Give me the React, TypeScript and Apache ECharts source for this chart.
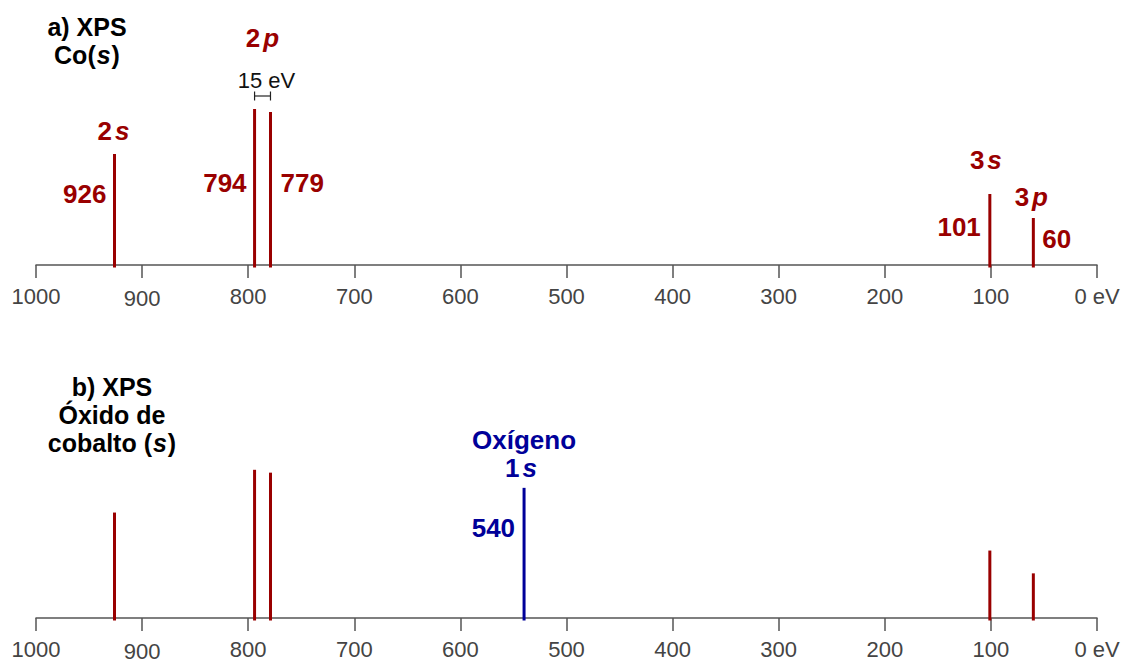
import React, { useEffect, useRef } from "react";
import * as echarts from "echarts";

// ---- data ----
const axisMin = 0;
const axisMax = 1000;
const axisInterval = 100;
const cobaltEnergies = [926, 794, 779, 101, 60];
const cobaltIntensities = [111, 156, 153, 71, 47];
const cobaltValueLabels = ["926", "794", "779", "101", "60"];
const oxygenEnergies = [540];
const oxygenIntensities = [137];
const oxygenValueLabels = ["540"];
const orbitalNames = ["2", "2", "3", "3"];
const orbitalLetters = ["s", "p", "s", "p"];
const splittingLabel = "15 eV";
const panelTitlesA = ["a) XPS", "Co(", "s", ")"];
const panelTitlesB = ["b) XPS", "Óxido de", "cobalto (", "s", ")"];
const oxygenTitle = ["Oxígeno", "1", "s"];

// ---- styles ----
const RED = "#990000";
const BLUE = "#000099";
const AXIS = "#555555";
const FONT = "'Liberation Sans', Arial, Helvetica, sans-serif";
const valueSide = [-1, -1, 1, -1, 1];
const valueDx = [-8, -8, 10, -9, 9];
const valueDy = [-71, -82, -82, -38, -26];

export default function App() {
  const ref = useRef<HTMLDivElement>(null);
  useEffect(() => {
    if (!ref.current) return;
    document.body.style.margin = "0";
    const chart = echarts.init(ref.current, null, { renderer: "svg" });

    const xAxisBase = (gridIndex: number) => ({
      type: "value",
      gridIndex,
      min: axisMin,
      max: axisMax,
      interval: axisInterval,
      inverse: true,
      position: "bottom",
      axisLine: { show: true, onZero: false, lineStyle: { color: AXIS, width: 1.5 } },
      axisTick: { show: true, length: 13, lineStyle: { color: AXIS, width: 1.5 } },
      axisLabel: {
        show: true,
        margin: 20,
        color: "#444",
        fontSize: 22,
        fontFamily: FONT,
        formatter: (v: number) => (v === 0 ? "0 eV" : v === 900 ? "{low|900}" : String(v)),
        rich: {
          low: { fontSize: 22, fontFamily: FONT, color: "#444", padding: [2, 0, 0, 0] },
        },
      },
      splitLine: { show: false },
    });
    const yAxisBase = (gridIndex: number) => ({
      type: "value",
      gridIndex,
      min: 0,
      max: 200,
      show: false,
    });
    const stem = (color: string) => (params: any, api: any) => {
      const x = api.value(0);
      const y = api.value(1);
      const p0 = api.coord([x, 0]);
      const p1 = api.coord([x, y]);
      return {
        type: "line",
        shape: { x1: p0[0], y1: p0[1] + 2.5, x2: p1[0], y2: p1[1] },
        style: { stroke: color, lineWidth: 3 },
      };
    };
    const pairs = (xs: number[], ys: number[]) => xs.map((x, i) => [x, ys[i]]);

    chart.setOption({
      animation: false,
      grid: [
        { left: 36, right: 29, top: 65, height: 200 },
        { left: 36, right: 29, top: 428, height: 194 },
      ],
      xAxis: [xAxisBase(0), xAxisBase(1)],
      yAxis: [yAxisBase(0), yAxisBase(1)],
      series: [
        { type: "custom", xAxisIndex: 0, yAxisIndex: 0, renderItem: stem(RED), data: pairs(cobaltEnergies, cobaltIntensities), encode: { x: 0, y: 1 } },
        { type: "custom", xAxisIndex: 1, yAxisIndex: 1, renderItem: stem(RED), data: pairs(cobaltEnergies, cobaltIntensities), encode: { x: 0, y: 1 } },
        { type: "custom", xAxisIndex: 1, yAxisIndex: 1, renderItem: stem(BLUE), data: pairs(oxygenEnergies, oxygenIntensities), encode: { x: 0, y: 1 } },
      ],
    });

    const px = (axis: number, v: number) => chart.convertToPixel({ xAxisIndex: axis } as any, v) as number;
    const py = (axis: number, v: number) => chart.convertToPixel({ yAxisIndex: axis } as any, v) as number;
    const base0 = py(0, 0);
    const base1 = py(1, 0);

    const boldFont = `bold 26px ${FONT}`;
    const richOrbital = (color: string) => ({
      b: { font: boldFont, fill: color },
      i: { font: `italic bold 26px ${FONT}`, fill: color, padding: [0, 0, 0, 3] },
    });
    const titleRich = {
      n: { font: `bold 25px ${FONT}`, fill: "#000" },
      i: { font: `italic bold 25px ${FONT}`, fill: "#000", padding: [0, 1, 0, 1] },
    };

    const g: any[] = [];
    // value labels panel a
    cobaltEnergies.forEach((e, i) => {
      g.push({
        type: "text",
        x: px(0, e) + valueDx[i],
        y: base0 + valueDy[i],
        style: {
          text: cobaltValueLabels[i],
          font: boldFont,
          fill: RED,
          align: valueSide[i] < 0 ? "right" : "left",
          verticalAlign: "middle",
        },
      });
    });
    // orbital labels
    const orbitalX = [
      px(0, cobaltEnergies[0]) - 1,
      (px(0, cobaltEnergies[1]) + px(0, cobaltEnergies[2])) / 2,
      px(0, cobaltEnergies[3]) - 4,
      px(0, cobaltEnergies[4]) - 2,
    ];
    const orbitalY = [131, 38, 160, 197];
    orbitalNames.forEach((n, i) => {
      g.push({
        type: "text",
        x: orbitalX[i],
        y: orbitalY[i],
        style: {
          text: `{b|${n}}{i|${orbitalLetters[i]}}`,
          rich: richOrbital(RED),
          align: "center",
          verticalAlign: "middle",
        },
      });
    });
    // 15 eV bracket
    const bx1 = px(0, cobaltEnergies[1]);
    const bx2 = px(0, cobaltEnergies[2]);
    const by = 96;
    const bstyle = { stroke: "#222", lineWidth: 1.2 };
    g.push({ type: "line", shape: { x1: bx1, y1: by, x2: bx2, y2: by }, style: bstyle });
    g.push({ type: "line", shape: { x1: bx1, y1: by - 4.5, x2: bx1, y2: by + 4.5 }, style: bstyle });
    g.push({ type: "line", shape: { x1: bx2, y1: by - 4.5, x2: bx2, y2: by + 4.5 }, style: bstyle });
    g.push({
      type: "text",
      x: (bx1 + bx2) / 2 + 4,
      y: 80,
      style: { text: splittingLabel, font: `22px ${FONT}`, fill: "#111", align: "center", verticalAlign: "middle" },
    });
    // panel a title
    g.push({ type: "text", x: 87, y: 27, style: { text: `{n|${panelTitlesA[0]}}`, rich: titleRich, align: "center", verticalAlign: "middle" } });
    g.push({ type: "text", x: 87, y: 55, style: { text: `{n|${panelTitlesA[1]}}{i|${panelTitlesA[2]}}{n|${panelTitlesA[3]}}`, rich: titleRich, align: "center", verticalAlign: "middle" } });
    // panel b title
    g.push({ type: "text", x: 112, y: 387, style: { text: `{n|${panelTitlesB[0]}}`, rich: titleRich, align: "center", verticalAlign: "middle" } });
    g.push({ type: "text", x: 112, y: 415, style: { text: `{n|${panelTitlesB[1]}}`, rich: titleRich, align: "center", verticalAlign: "middle" } });
    g.push({ type: "text", x: 112, y: 443, style: { text: `{n|${panelTitlesB[2]}}{i|${panelTitlesB[3]}}{n|${panelTitlesB[4]}}`, rich: titleRich, align: "center", verticalAlign: "middle" } });
    // oxygen
    const ox = px(1, oxygenEnergies[0]);
    g.push({ type: "text", x: ox, y: 440, style: { text: oxygenTitle[0], font: boldFont, fill: BLUE, align: "center", verticalAlign: "middle" } });
    g.push({ type: "text", x: ox - 3, y: 468, style: { text: `{b|${oxygenTitle[1]}}{i|${oxygenTitle[2]}}`, rich: richOrbital(BLUE), align: "center", verticalAlign: "middle" } });
    g.push({ type: "text", x: ox - 9, y: base1 - 90, style: { text: oxygenValueLabels[0], font: boldFont, fill: BLUE, align: "right", verticalAlign: "middle" } });

    chart.setOption({ graphic: g });

    return () => chart.dispose();
  }, []);
  return <div ref={ref} style={{ width: 1126, height: 662 }} />;
}
